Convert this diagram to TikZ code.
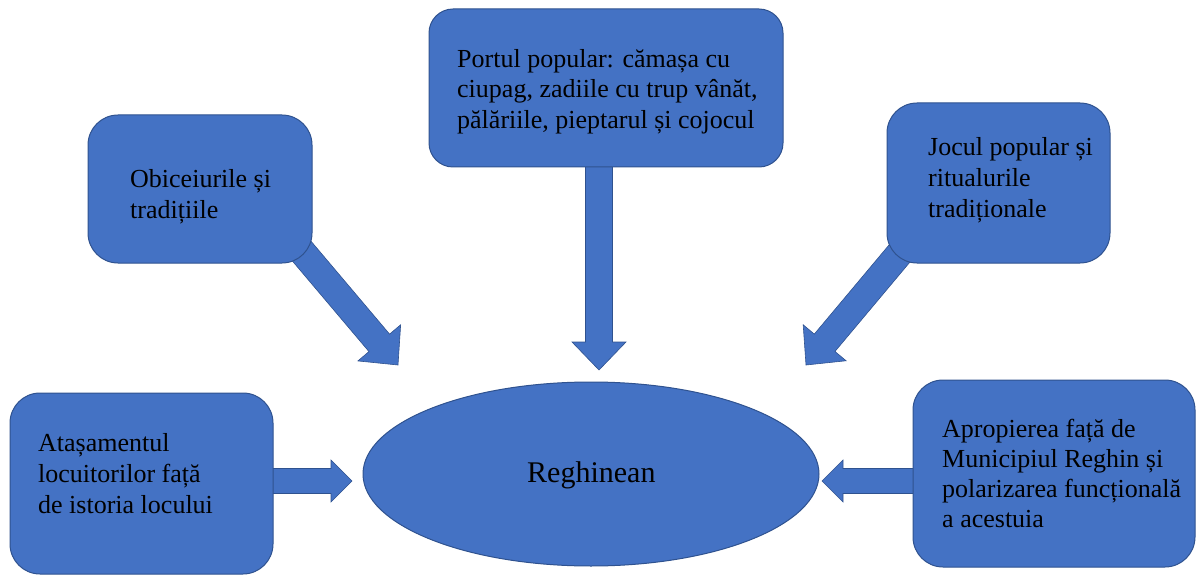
\documentclass[tikz,border=0pt]{standalone}
\usepackage{fontspec}
\setmainfont{Liberation Serif}
\usetikzlibrary{calc}
\definecolor{boxblue}{HTML}{4472C4}
\definecolor{boxedge}{HTML}{2F528F}
\tikzset{
  blockbox/.style={draw=boxedge, line width=1pt, fill=boxblue, rounded corners=#1, inner sep=0pt},
  blockbox/.default=28pt,
  boxtext/.style={anchor=base west, align=left, inner sep=0pt, text=black,
    font=\fontsize{26}{31}\selectfont},
  arrowbody/.style={fill=boxblue, draw=boxedge, line width=0.6pt, line join=miter}
}
\newcommand\BlockArrow[5]{%
  \coordinate (ba-h) at ($(#2)!#5!(#1)$);
  \filldraw[arrowbody] ($(#1)!#3!90:(#2)$) -- ($(ba-h)!#3!90:(#2)$) -- ($(ba-h)!#4!90:(#2)$)
    -- (#2) -- ($(ba-h)!#4!-90:(#2)$) -- ($(ba-h)!#3!-90:(#2)$) -- ($(#1)!#3!-90:(#2)$) -- cycle;
}
\begin{document}
\begin{tikzpicture}[x=1pt,y=-1pt]
\useasboundingbox (0,0) rectangle (1197,575);
% arrow anchors
\coordinate (sTop) at (599,160);
\coordinate (tTop) at (599,370);
\coordinate (sLD) at (283,229);
\coordinate (tLD) at (398,365);
\coordinate (sRD) at (915,235);
\coordinate (tRD) at (806,365);
\coordinate (sLH) at (262,481);
\coordinate (tLH) at (352,481);
\coordinate (sRH) at (925,481);
\coordinate (tRH) at (822,481);
% arrows (behind boxes)
\BlockArrow{sTop}{tTop}{13.5pt}{27pt}{28pt}
\BlockArrow{sLD}{tLD}{13.5pt}{28pt}{29pt}
\BlockArrow{sRD}{tRD}{13.5pt}{28pt}{29pt}
\BlockArrow{sLH}{tLH}{12.5pt}{21pt}{21pt}
\BlockArrow{sRH}{tRH}{12.5pt}{21pt}{21pt}
% boxes
\draw[blockbox=24pt] (429,9) rectangle (783,167);
\node[inner sep=0pt] (port) at (606,88) {};
\draw[blockbox=30pt] (88,115) rectangle (312,263);
\node[inner sep=0pt] (obic) at (200,189) {};
\draw[blockbox=30pt] (887,103) rectangle (1110,263);
\node[inner sep=0pt] (joc) at (998,183) {};
\draw[blockbox=30pt] (10,393) rectangle (273,574);
\node[inner sep=0pt] (atas) at (141,483) {};
\draw[blockbox=30pt] (913,380) rectangle (1195,567);
\node[inner sep=0pt] (apro) at (1054,473) {};
% ellipse
\draw[draw=boxedge, line width=1pt, fill=boxblue] (591,474) ellipse [x radius=228, y radius=92];
\node[inner sep=0pt] (regh) at (591,474) {};
% texts (base anchor = baseline of last line)
\node[boxtext] (tport) at (457,129) {Portul popular: cămașa cu\\ciupag, zadiile cu trup vânăt,\\pălăriile, pieptarul și cojocul};
\node[boxtext] (tobic) at (130,218) {Obiceiurile și\\tradițiile};
\node[boxtext] (tjoc) at (928,217) {Jocul popular și\\ritualurile\\tradiționale};
\node[boxtext] (tatas) at (38,513) {Atașamentul\\locuitorilor față\\de istoria locului};
\node[boxtext, font=\fontsize{26}{30}\selectfont] (tapro) at (942,527) {Apropierea față de\\Municipiul Reghin și\\polarizarea funcțională\\a acestuia};
\node[boxtext, font=\fontsize{30}{36}\selectfont] (tregh) at (527,482) {Reghinean};
\end{tikzpicture}
\end{document}
